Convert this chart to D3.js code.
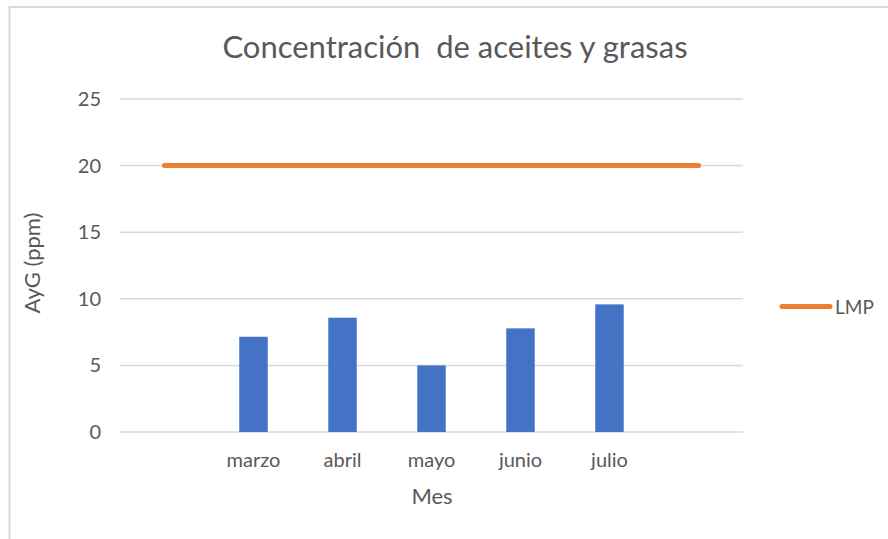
<!DOCTYPE html>
<html><head><meta charset="utf-8">
<script src="https://cdn.jsdelivr.net/npm/d3@7"></script>
<style>
html,body{margin:0;padding:0;background:#fff;}
svg{display:block;font-family:Lato,"Open Sans",sans-serif;}
</style></head>
<body><svg id="c" width="888" height="539"></svg>
<script>
const categories = ["", "marzo", "abril", "mayo", "junio", "julio", ""];
const avgValues = [null, 7.15, 8.58, 5.0, 7.78, 9.58, null];
const lmpValues = [20, 20, 20, 20, 20, 20, 20];
const yTicks = [0, 5, 10, 15, 20, 25];
const titleText = "Concentración  de aceites y grasas";
const xTitle = "Mes";
const yTitle = "AyG (ppm)";
const legendLabel = "LMP";

const svg = d3.select("#c");
const W = 888, H = 539;
const m = {left: 120, right: 145, top: 99, bottom: 107};
const txt = "#595959", grid = "#d9d9d9";

// frame
svg.append("rect").attr("x", 9.5).attr("y", 7).attr("width", W + 10).attr("height", H + 10)
  .attr("fill", "#fff").attr("stroke", grid).attr("stroke-width", 2);

const idx = d3.range(categories.length);
const x = d3.scaleBand().domain(idx).range([m.left, W - m.right]).padding(0);
const y = d3.scaleLinear().domain([0, 25]).range([H - m.bottom, m.top]);

// gridlines
svg.append("g").selectAll("line").data(yTicks).join("line")
  .attr("x1", m.left).attr("x2", W - m.right)
  .attr("y1", d => y(d)).attr("y2", d => y(d))
  .attr("stroke", grid).attr("stroke-width", 1.5);

// y axis labels
const yAxis = svg.append("g").attr("transform", `translate(${m.left - 19},0)`)
  .call(d3.axisLeft(y).tickValues(yTicks).tickSize(0).tickPadding(0));
yAxis.select(".domain").remove();
yAxis.selectAll("text").attr("fill", txt).style("font-size", "20px").style("font-family", "Lato");

// x axis labels
const xAxis = svg.append("g").attr("transform", `translate(0,${y(0) + 21})`)
  .call(d3.axisBottom(x).tickFormat(i => categories[i]).tickSize(0).tickPadding(0));
xAxis.select(".domain").remove();
xAxis.selectAll("text").attr("fill", txt).style("font-size", "20px").style("font-family", "Lato");

// bars
const bw = x.bandwidth() * 0.32;
svg.append("g").selectAll("rect").data(idx.filter(i => avgValues[i] != null)).join("rect")
  .attr("x", i => x(i) + x.bandwidth() / 2 - bw / 2)
  .attr("width", bw)
  .attr("y", i => y(avgValues[i]))
  .attr("height", i => y(0) - y(avgValues[i]))
  .attr("fill", "#4472C4");

// LMP line
const line = d3.line().x(i => x(i) + x.bandwidth() / 2).y(i => y(lmpValues[i]));
svg.append("path").datum(idx).attr("d", line)
  .attr("fill", "none").attr("stroke", "#ED7D31").attr("stroke-width", 5)
  .attr("stroke-linecap", "round");

// titles
svg.append("text").attr("x", 455).attr("y", 58).attr("text-anchor", "middle")
  .attr("fill", txt).style("font-size", "31px").attr("xml:space", "preserve").text(titleText);
svg.append("text").attr("x", 432).attr("y", 504).attr("text-anchor", "middle")
  .attr("fill", txt).style("font-size", "22px").text(xTitle);
svg.append("text").attr("transform", "translate(40,263) rotate(-90)").attr("text-anchor", "middle")
  .attr("fill", txt).style("font-size", "22px").text(yTitle);

// legend
const lg = svg.append("g").attr("transform", "translate(782,306.5)");
lg.append("line").attr("x1", 0).attr("x2", 48).attr("y1", 0).attr("y2", 0)
  .attr("stroke", "#ED7D31").attr("stroke-width", 5).attr("stroke-linecap", "round");
lg.append("text").attr("x", 53).attr("y", 7).attr("fill", txt).style("font-size", "19px").text(legendLabel);
</script></body></html>
